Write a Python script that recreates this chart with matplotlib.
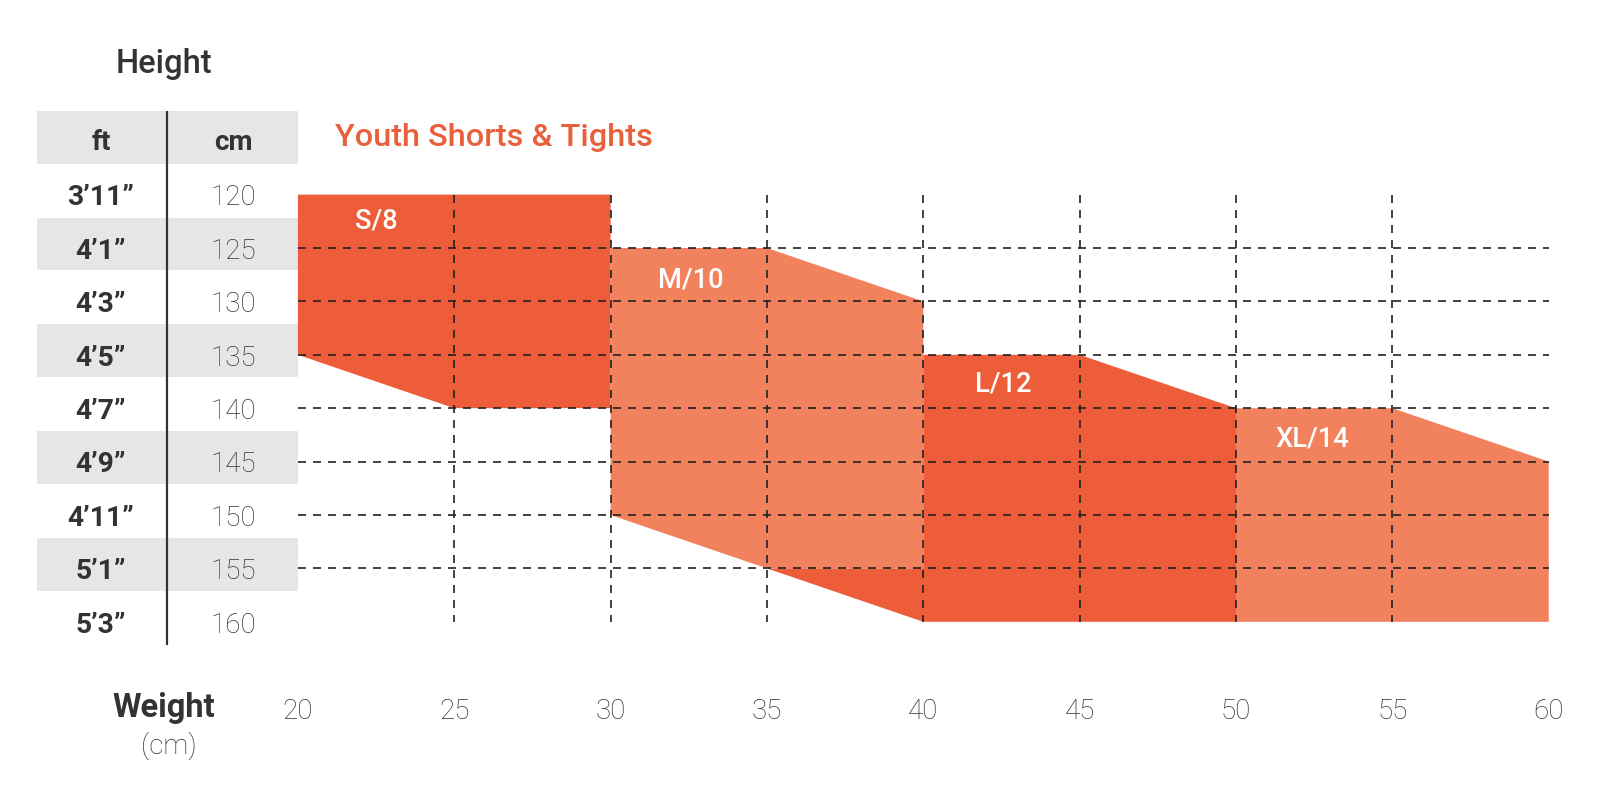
import matplotlib
matplotlib.use("Agg")
import matplotlib.pyplot as plt
from matplotlib.patches import Polygon, Rectangle

plt.rcParams["font.family"] = ["Roboto", "DejaVu Sans"]

# size chart data (weight on x, height in cm on y)
heights_cm = [120, 125, 130, 135, 140, 145, 150, 155, 160]
heights_ft = ["3’11”", "4’1”", "4’3”", "4’5”", "4’7”", "4’9”", "4’11”", "5’1”", "5’3”"]
weights = [20, 25, 30, 35, 40, 45, 50, 55, 60]

size_names = ["S/8", "M/10", "L/12", "XL/14"]
size_weights = [
    [20, 30, 30, 25, 20],
    [30, 35, 40, 40, 35, 30],
    [35, 40, 40, 45, 50, 50, 40],
    [50, 55, 60, 60, 50],
]
size_heights = [
    [120, 120, 140, 140, 135],
    [125, 125, 130, 155, 155, 150],
    [155, 155, 135, 135, 140, 160, 160],
    [140, 140, 145, 160, 160],
]
label_pos = [(22.5, 122.5), (32.55, 128.0), (42.55, 137.7), (52.45, 142.9)]

DARK = "#EE5D3A"
LIGHT = "#F2815E"
size_colors = [DARK, LIGHT, DARK, LIGHT]
GRAY = "#E7E5E5"
TEXT = "#333333"


def main():
    fig = plt.figure(figsize=(16, 8.1), dpi=100)
    ax = fig.add_axes([0, 0, 1, 1])
    ax.set_xlim(10.473, 61.64)
    ax.set_ylim(177.62, 101.78)
    ax.axis("off")

    # left table
    ft_x, cm_x = 13.70, 17.93
    tab_left, tab_mid, tab_right = 11.647, 15.81, 20.0
    ax.add_patch(Rectangle((tab_left, 112.15), tab_right - tab_left, 4.95,
                           color=GRAY, lw=0, zorder=1))
    for i, (cm, ft) in enumerate(zip(heights_cm, heights_ft)):
        if i % 2 == 1:
            ax.add_patch(Rectangle((tab_left, cm - 2.85), tab_right - tab_left, 4.95,
                                   color=GRAY, lw=0, zorder=1))
        ax.text(ft_x, cm + 0.3, ft, ha="center", va="center", fontsize=20.3,
                fontweight="bold", color=TEXT, zorder=3)
        ax.text(cm_x, cm + 0.3, str(cm), ha="center", va="center", fontsize=20,
                fontweight="light", color=TEXT, zorder=3)
    ax.plot([tab_mid, tab_mid], [112.15, 162.2], color=TEXT, lw=1.6, zorder=2,
            solid_capstyle="butt")
    ax.text(ft_x, 115.1, "ft", ha="center", va="center", fontsize=20,
            fontweight="bold", color=TEXT)
    ax.text(cm_x, 115.1, "cm", ha="center", va="center", fontsize=20,
            fontweight="bold", color=TEXT)

    ax.text(15.70, 107.8, "Height", ha="center", va="center", fontsize=23.5,
            fontweight="medium", color=TEXT)
    ax.text(15.70, 168.1, "Weight", ha="center", va="center", fontsize=23.5,
            fontweight="bold", color=TEXT)
    ax.text(15.86, 171.6, "(cm)", ha="center", va="center", fontsize=20,
            fontweight="light", color=TEXT)

    ax.text(21.19, 114.7, "Youth Shorts & Tights", ha="left", va="center",
            fontsize=23.4, fontweight="medium", color="#E8603C")

    # size regions
    for name, xs, ys, col, (lx, ly) in zip(size_names, size_weights, size_heights,
                                           size_colors, label_pos):
        ax.add_patch(Polygon(list(zip(xs, ys)), closed=True, color=col, lw=0,
                             zorder=2))
        ax.text(lx, ly, name, ha="center", va="center", fontsize=19.6,
                fontweight="medium", color="white", zorder=4)

    # dashed grid
    dash = (0, (4.8, 4.2))
    for w in weights[1:-1]:
        ax.plot([w, w], [heights_cm[0], heights_cm[-1]], color="#222222", lw=1.2,
                linestyle=dash, zorder=3)
    for h in heights_cm[1:-1]:
        ax.plot([weights[0], weights[-1]], [h, h], color="#222222", lw=1.2,
                linestyle=dash, zorder=3)

    # weight ticks
    for w in weights:
        ax.text(w, 168.4, str(w), ha="center", va="center", fontsize=20,
                fontweight="light", color=TEXT)

    fig.savefig("out.png", dpi=100)


if __name__ == "__main__":
    main()
